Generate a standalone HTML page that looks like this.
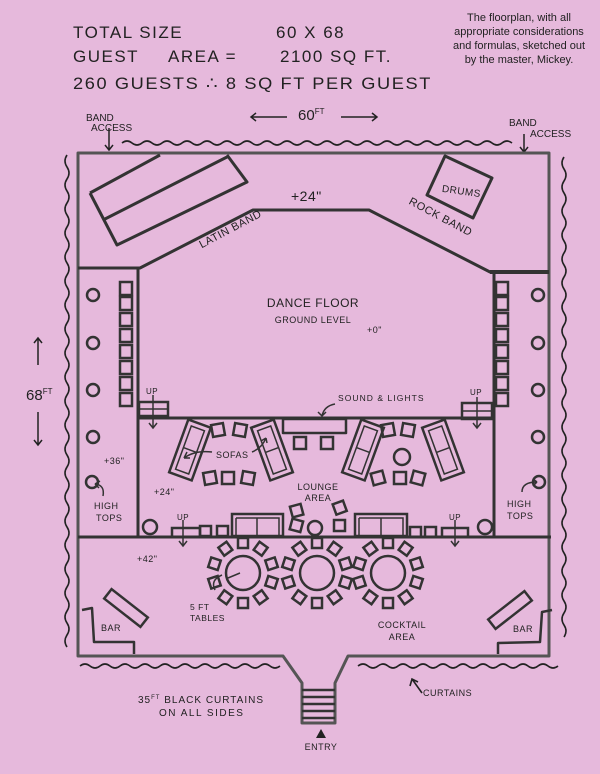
<!DOCTYPE html>
<html><head><meta charset="utf-8"><style>
html,body{margin:0;padding:0;background:#e6b9dc;}
svg{display:block}
.h{font-family:"Liberation Sans",sans-serif;fill:#222;}
</style></head><body>
<svg width="600" height="774" viewBox="0 0 600 774" xmlns="http://www.w3.org/2000/svg">
<rect width="600" height="774" fill="#e6b9dc"/>
<g font-family="Liberation Sans,sans-serif" font-size="11" fill="#222" text-anchor="middle">
<text x="519" y="21">The floorplan, with all</text>
<text x="519" y="35">appropriate considerations</text>
<text x="519" y="49">and formulas, sketched out</text>
<text x="519" y="63">by the master, Mickey.</text>
</g>
<g class="h" font-size="17" letter-spacing="1.5">
<text x="73" y="38">TOTAL SIZE</text><text x="276" y="38">60 X 68</text>
<text x="73" y="62">GUEST</text><text x="168" y="62">AREA =</text><text x="280" y="62">2100 SQ FT.</text>
<text x="73" y="89" textLength="359" lengthAdjust="spacingAndGlyphs">260 GUESTS ∴ 8 SQ FT PER GUEST</text>
</g>
<g class="h" font-size="10">
<text x="86" y="121">BAND</text><text x="91" y="131">ACCESS</text>
<text x="509" y="126">BAND</text><text x="530" y="137">ACCESS</text>
<text x="298" y="120" font-size="15">60<tspan font-size="8" dy="-6">FT</tspan></text>
<text x="26" y="400" font-size="15">68<tspan font-size="8" dy="-6">FT</tspan></text>
</g>
<g stroke="#222" stroke-width="1.5" fill="none">
<path d="M109 128 V150 M105 145 L109 150 L113 145"/>
<path d="M524 134 V152 M520 147 L524 152 L528 147"/>
<path d="M251 117 H287 M256 113 L251 117 L256 121"/>
<path d="M341 117 H377 M372 113 L377 117 L372 121"/>
<path d="M38 365 V338 M34 343 L38 338 L42 343"/>
<path d="M38 412 V445 M34 440 L38 445 L42 440"/>
</g>
<g stroke="#222" stroke-width="1.6" fill="none">
<path d="M122 143 q5 -4 10 0 t10 0 t10 0 t10 0 t10 0 t10 0 t10 0 t10 0 t10 0 t10 0 t10 0 t10 0 t10 0 t10 0 t10 0 t10 0 t10 0 t10 0 t10 0 t10 0 t10 0 t10 0 t10 0 t10 0 t10 0 t10 0 t10 0 t10 0 t10 0 t10 0 t10 0 t10 0 t10 0 t10 0 t10 0 t10 0 t10 0 t10 0 t10 0"/>
<path d="M67 155 q-4 6 0 12 t0 12 t0 12 t0 12 t0 12 t0 12 t0 12 t0 12 t0 12 t0 12 t0 12 t0 12 t0 12 t0 12 t0 12 t0 12 t0 12 t0 12 t0 12 t0 12 t0 12 t0 12 t0 12 t0 12 t0 12 t0 12 t0 12 t0 12 t0 12 t0 12 t0 12 t0 12 t0 12 t0 12 t0 12 t0 12 t0 12 t0 12 t0 12 t0 12 t0 12"/>
<path d="M564 157 q-4 6 0 12 t0 12 t0 12 t0 12 t0 12 t0 12 t0 12 t0 12 t0 12 t0 12 t0 12 t0 12 t0 12 t0 12 t0 12 t0 12 t0 12 t0 12 t0 12 t0 12 t0 12 t0 12 t0 12 t0 12 t0 12 t0 12 t0 12 t0 12 t0 12 t0 12 t0 12 t0 12 t0 12 t0 12 t0 12 t0 12 t0 12 t0 12 t0 12 t0 12"/>
<path d="M80 666 q5 -4 10 0 t10 0 t10 0 t10 0 t10 0 t10 0 t10 0 t10 0 t10 0 t10 0 t10 0 t10 0 t10 0 t10 0 t10 0 t10 0 t10 0 t10 0 t10 0 t10 0"/>
<path d="M358 666 q5 -4 10 0 t10 0 t10 0 t10 0 t10 0 t10 0 t10 0 t10 0 t10 0 t10 0 t10 0 t10 0 t10 0 t10 0 t10 0 t10 0 t10 0 t10 0 t10 0 t10 0"/>
<path d="M422 693 L412 679 M410 686 L412 679 L418 682"/>
</g>
<g stroke="#333" stroke-width="3" fill="none" stroke-linejoin="round">
<path d="M78 153 H549 V656 H348 L335 683 V723 H302 V683 L283 656 H78 Z" stroke="#555"/>
<path d="M78 268 H140 L253 210 H369 L490 272 H549"/>
<path d="M490 272 H549" stroke-width="4"/>
<path d="M138 268 V537 M494 272 V537"/>
<path d="M138 418 H494"/>
<path d="M78 537 H551"/>
<path d="M283 419 H346 V433 H283 Z" stroke-width="2.5"/>
<path d="M90 193 L160 155 M227 155 L247 182 L117 245 L90 193 M103 220 L227 157"/>
<path d="M445 156 L492 178 L473 218 L427 195 Z"/>
<path d="M302 690 H335 M302 697 H335 M302 704 H335 M302 711 H335 M302 718 H335" stroke-width="2.5"/>
<path d="M82 610 L92 608 L94 642 L134 642 L134 654" stroke-width="2.5"/>
<path d="M552 610 L542 612 L540 642 L498 643 L498 654" stroke-width="2.5"/>
</g>
<g stroke="#333" stroke-width="2.5" fill="none">
<rect x="-23" y="-6" width="46" height="12" transform="translate(126 608) rotate(38)"/>
<rect x="-23" y="-6" width="46" height="12" transform="translate(510 610) rotate(-38)"/>
<rect x="139" y="402" width="29" height="14"/><path d="M139 409 H168 M153 395 V428 M149 423 L153 428 L157 423" stroke-width="1.5"/>
<rect x="462" y="403" width="30" height="16"/><path d="M462 411 H492 M477 397 V428 M473 423 L477 428 L481 423" stroke-width="1.5"/>
<rect x="172" y="528" width="28" height="9"/><path d="M183 520 V546 M179 541 L183 546 L187 541" stroke-width="1.5"/>
<rect x="442" y="528" width="26" height="9"/><path d="M455 520 V546 M451 541 L455 546 L459 541" stroke-width="1.5"/>
<g stroke-width="2.5">
<circle cx="93" cy="295" r="6"/><circle cx="93" cy="343" r="6"/><circle cx="93" cy="390" r="6"/><circle cx="93" cy="437" r="6"/><circle cx="92" cy="482" r="6"/>
<circle cx="538" cy="295" r="6"/><circle cx="538" cy="343" r="6"/><circle cx="538" cy="390" r="6"/><circle cx="538" cy="437" r="6"/><circle cx="539" cy="482" r="6"/>
<circle cx="150" cy="527" r="7"/><circle cx="315" cy="528" r="7"/><circle cx="485" cy="527" r="7"/>
<circle cx="402" cy="457" r="8"/>
</g>
<g stroke-width="2.5">
<rect x="120" y="282" width="12" height="13"/><rect x="120" y="297" width="12" height="13"/><rect x="120" y="313" width="12" height="13"/><rect x="120" y="329" width="12" height="13"/><rect x="120" y="345" width="12" height="13"/><rect x="120" y="361" width="12" height="13"/><rect x="120" y="377" width="12" height="13"/><rect x="120" y="393" width="12" height="13"/>
<rect x="496" y="282" width="12" height="13"/><rect x="496" y="297" width="12" height="13"/><rect x="496" y="313" width="12" height="13"/><rect x="496" y="329" width="12" height="13"/><rect x="496" y="345" width="12" height="13"/><rect x="496" y="361" width="12" height="13"/><rect x="496" y="377" width="12" height="13"/><rect x="496" y="393" width="12" height="13"/>
</g>
<g stroke-width="2.5">
<g transform="translate(190 450) rotate(20)"><rect x="-12" y="-28" width="24" height="56"/><rect x="-7" y="-23" width="14" height="46" stroke-width="1.5"/><path d="M-7 0 H7" stroke-width="1.5"/></g>
<g transform="translate(272 450) rotate(-20)"><rect x="-12" y="-28" width="24" height="56"/><rect x="-7" y="-23" width="14" height="46" stroke-width="1.5"/><path d="M-7 0 H7" stroke-width="1.5"/></g>
<g transform="translate(363 450) rotate(20)"><rect x="-12" y="-28" width="24" height="56"/><rect x="-7" y="-23" width="14" height="46" stroke-width="1.5"/><path d="M-7 0 H7" stroke-width="1.5"/></g>
<g transform="translate(443 450) rotate(-20)"><rect x="-12" y="-28" width="24" height="56"/><rect x="-7" y="-23" width="14" height="46" stroke-width="1.5"/><path d="M-7 0 H7" stroke-width="1.5"/></g>
<rect x="232" y="514" width="51" height="22"/><path d="M236 518 H279 V536 M257 518 V536 M236 518 V536" stroke-width="1.5"/>
<rect x="355" y="514" width="52" height="22"/><path d="M359 518 H403 V536 M381 518 V536 M359 518 V536" stroke-width="1.5"/>
</g>
<g stroke-width="2.5">
<rect x="212" y="424" width="12" height="12" transform="rotate(-10 218 430)"/>
<rect x="234" y="424" width="12" height="12" transform="rotate(10 240 430)"/>
<rect x="204" y="472" width="12" height="12" transform="rotate(-10 210 478)"/>
<rect x="222" y="472" width="12" height="12"/>
<rect x="242" y="472" width="12" height="12" transform="rotate(10 248 478)"/>
<rect x="294" y="437" width="12" height="12"/><rect x="321" y="437" width="12" height="12"/>
<rect x="382" y="424" width="12" height="12" transform="rotate(-10 388 430)"/>
<rect x="402" y="424" width="12" height="12" transform="rotate(10 408 430)"/>
<rect x="372" y="472" width="12" height="12" transform="rotate(-15 378 478)"/>
<rect x="394" y="472" width="12" height="12"/>
<rect x="412" y="472" width="12" height="12" transform="rotate(15 418 478)"/>
<rect x="200" y="526" width="11" height="10"/><rect x="217" y="526" width="11" height="10"/>
<rect x="291" y="505" width="11" height="11" transform="rotate(-15 297 510)"/><rect x="291" y="520" width="11" height="11" transform="rotate(15 297 525)"/>
<rect x="334" y="502" width="11" height="11" transform="rotate(-20 340 507)"/><rect x="334" y="520" width="11" height="11"/>
<rect x="410" y="527" width="11" height="10"/><rect x="425" y="527" width="11" height="10"/>
</g>
<path d="M252 452 Q262 448 266 438 M266 438 l-5 3 M266 438 l1 5" stroke-width="1.5"/>
<path d="M212 452 Q195 450 184 458 M184 458 l3 -6 M184 458 l6 0" stroke-width="1.5"/>
<path d="M335 404 Q324 406 322 416 M318 412 L322 416 L326 412" stroke-width="1.5"/>
<path d="M215 590 Q210 580 222 575 M228 578 L240 573" stroke-width="1.5"/>
<path d="M103 496 Q105 485 95 484 M95 484 l5 -3 M95 484 l4 4" stroke-width="1.5"/>
<path d="M522 492 Q522 482 537 482 M537 482 l-4 -3 M537 482 l-4 4" stroke-width="1.5"/>
</g>
<g stroke="#333" stroke-width="2.5" fill="none">
<g transform="translate(243 573)"><circle r="17"/>
<g id="ch"><rect x="-5" y="-35" width="10" height="10"/><rect x="-5" y="-35" width="10" height="10" transform="rotate(36)"/><rect x="-5" y="-35" width="10" height="10" transform="rotate(72)"/><rect x="-5" y="-35" width="10" height="10" transform="rotate(108)"/><rect x="-5" y="-35" width="10" height="10" transform="rotate(144)"/><rect x="-5" y="-35" width="10" height="10" transform="rotate(180)"/><rect x="-5" y="-35" width="10" height="10" transform="rotate(216)"/><rect x="-5" y="-35" width="10" height="10" transform="rotate(252)"/><rect x="-5" y="-35" width="10" height="10" transform="rotate(288)"/><rect x="-5" y="-35" width="10" height="10" transform="rotate(324)"/></g></g>
<g transform="translate(317 573)"><circle r="17"/><use href="#ch"/></g>
<g transform="translate(388 573)"><circle r="17"/><use href="#ch"/></g>
</g>
<g class="h" font-size="10" letter-spacing="0.5">
<text x="195" y="250" transform="rotate(-28 195 236)" font-size="11">LATIN BAND</text>
<text x="402" y="216" transform="rotate(28 430 222)" font-size="11">ROCK BAND</text>
<text x="442" y="194" transform="rotate(8 458 190)">DRUMS</text>
<text x="291" y="201" font-size="14">+24"</text>
<text x="313" y="307" font-size="12" text-anchor="middle">DANCE FLOOR</text>
<text x="313" y="323" font-size="9" text-anchor="middle">GROUND LEVEL</text>
<text x="367" y="333" font-size="9">+0"</text>
<text x="338" y="401" font-size="8.5" textLength="86">SOUND &amp; LIGHTS</text>
<text x="146" y="394" font-size="8">UP</text><text x="470" y="395" font-size="8">UP</text>
<text x="177" y="520" font-size="8">UP</text><text x="449" y="520" font-size="8">UP</text>
<text x="216" y="458" font-size="9">SOFAS</text>
<text x="318" y="490" font-size="9" text-anchor="middle">LOUNGE</text>
<text x="318" y="501" font-size="9" text-anchor="middle">AREA</text>
<text x="154" y="495" font-size="9">+24"</text>
<text x="104" y="464" font-size="9">+36"</text>
<text x="137" y="562" font-size="9">+42"</text>
<text x="94" y="509" font-size="9">HIGH</text><text x="96" y="521" font-size="9">TOPS</text>
<text x="507" y="507" font-size="9">HIGH</text><text x="507" y="519" font-size="9">TOPS</text>
<text x="190" y="610" font-size="8.5">5 FT</text><text x="190" y="621" font-size="8.5">TABLES</text>
<text x="402" y="628" font-size="9" text-anchor="middle">COCKTAIL</text>
<text x="402" y="640" font-size="9" text-anchor="middle">AREA</text>
<text x="101" y="631" font-size="9">BAR</text><text x="513" y="632" font-size="9">BAR</text>
<text x="423" y="696" font-size="9">CURTAINS</text>
<text x="138" y="703" font-size="10" letter-spacing="1">35<tspan font-size="6" dy="-4">FT</tspan><tspan dy="4"> BLACK CURTAINS</tspan></text>
<text x="159" y="716" font-size="10" letter-spacing="1.5">ON ALL SIDES</text>
<text x="321" y="750" font-size="9" text-anchor="middle">ENTRY</text>
</g>
<path d="M316 738 L321 729 L326 738 Z" fill="#222"/>
</svg>
</body></html>
